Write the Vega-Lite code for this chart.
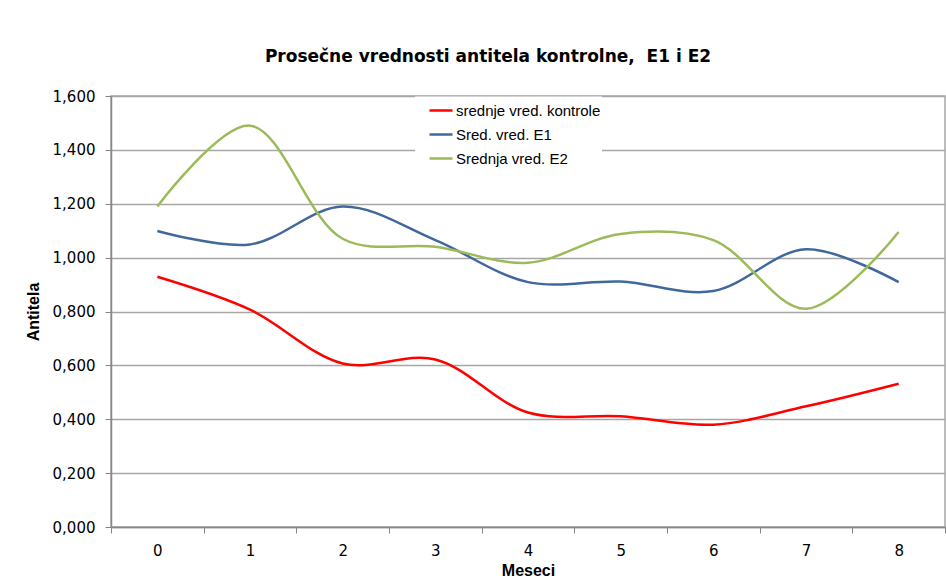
{
  "$schema": "https://vega.github.io/schema/vega-lite/v6.json",
  "autosize": "none",
  "width": 834,
  "height": 431,
  "padding": {"left": 111, "top": 96, "right": 1, "bottom": 56},
  "background": "white",
  "title": {
    "text": "Prosečne vrednosti antitela kontrolne,\u00a0 E1 i E2",
    "font": "DejaVu Sans",
    "fontSize": 17,
    "fontWeight": "bold",
    "color": "#000000",
    "anchor": "middle",
    "dx": -40,
    "offset": 23
  },
  "config": {
    "view": {"stroke": "#A6A6A6", "strokeWidth": 1.5},
    "font": "Liberation Sans"
  },
  "data": {
    "values": [
      {"mesec": "0", "serija": "srednje vred. kontrole", "vrednost": 0.929},
      {"mesec": "1", "serija": "srednje vred. kontrole", "vrednost": 0.807},
      {"mesec": "2", "serija": "srednje vred. kontrole", "vrednost": 0.607},
      {"mesec": "3", "serija": "srednje vred. kontrole", "vrednost": 0.622},
      {"mesec": "4", "serija": "srednje vred. kontrole", "vrednost": 0.425},
      {"mesec": "5", "serija": "srednje vred. kontrole", "vrednost": 0.411},
      {"mesec": "6", "serija": "srednje vred. kontrole", "vrednost": 0.38},
      {"mesec": "7", "serija": "srednje vred. kontrole", "vrednost": 0.448},
      {"mesec": "8", "serija": "srednje vred. kontrole", "vrednost": 0.532},
      {"mesec": "0", "serija": "Sred. vred. E1", "vrednost": 1.099},
      {"mesec": "1", "serija": "Sred. vred. E1", "vrednost": 1.049},
      {"mesec": "2", "serija": "Sred. vred. E1", "vrednost": 1.19},
      {"mesec": "3", "serija": "Sred. vred. E1", "vrednost": 1.065},
      {"mesec": "4", "serija": "Sred. vred. E1", "vrednost": 0.909},
      {"mesec": "5", "serija": "Sred. vred. E1", "vrednost": 0.911},
      {"mesec": "6", "serija": "Sred. vred. E1", "vrednost": 0.876},
      {"mesec": "7", "serija": "Sred. vred. E1", "vrednost": 1.031},
      {"mesec": "8", "serija": "Sred. vred. E1", "vrednost": 0.909},
      {"mesec": "0", "serija": "Srednja vred. E2", "vrednost": 1.19},
      {"mesec": "1", "serija": "Srednja vred. E2", "vrednost": 1.49},
      {"mesec": "2", "serija": "Srednja vred. E2", "vrednost": 1.07},
      {"mesec": "3", "serija": "Srednja vred. E2", "vrednost": 1.04},
      {"mesec": "4", "serija": "Srednja vred. E2", "vrednost": 0.981},
      {"mesec": "5", "serija": "Srednja vred. E2", "vrednost": 1.088},
      {"mesec": "6", "serija": "Srednja vred. E2", "vrednost": 1.065},
      {"mesec": "7", "serija": "Srednja vred. E2", "vrednost": 0.81},
      {"mesec": "8", "serija": "Srednja vred. E2", "vrednost": 1.095}
    ]
  },
  "mark": {"type": "line", "interpolate": "catmull-rom", "strokeWidth": 2.5},
  "encoding": {
    "x": {
      "field": "mesec",
      "type": "ordinal",
      "bandPosition": 0.5,
      "scale": {"type": "band", "paddingInner": 0, "paddingOuter": 0},
      "axis": {
        "title": "Meseci",
        "titleFont": "Liberation Sans",
        "titleFontSize": 16,
        "titleFontWeight": "bold",
        "titleColor": "#000000",
        "titlePadding": 4,
        "labelAngle": 0,
        "labelFont": "DejaVu Sans",
        "labelFontSize": 15,
        "labelColor": "#000000",
        "labelPadding": 10,
        "tickBand": "extent",
        "tickSize": 6,
        "tickColor": "#868686",
        "domainColor": "#868686",
        "domainWidth": 1.5,
        "grid": false
      }
    },
    "y": {
      "field": "vrednost",
      "type": "quantitative",
      "scale": {"domain": [0, 1.6], "nice": false, "zero": true},
      "axis": {
        "title": "Antitela",
        "titleFont": "Liberation Sans",
        "titleFontSize": 16,
        "titleFontWeight": "bold",
        "titleColor": "#000000",
        "titlePadding": 11,
        "values": [0, 0.2, 0.4, 0.6, 0.8, 1, 1.2, 1.4, 1.6],
        "labelExpr": "replace(format(datum.value, '.3f'), '.', ',')",
        "labelFont": "DejaVu Sans",
        "labelFontSize": 15,
        "labelColor": "#000000",
        "labelPadding": 10,
        "tickSize": 6,
        "tickColor": "#868686",
        "domainColor": "#868686",
        "domainWidth": 1.5,
        "gridColor": "#A6A6A6",
        "gridWidth": 1.5
      }
    },
    "color": {
      "field": "serija",
      "type": "nominal",
      "scale": {
        "domain": ["srednje vred. kontrole", "Sred. vred. E1", "Srednja vred. E2"],
        "range": ["#FF0000", "#41689C", "#9BBB59"]
      },
      "legend": {
        "title": null,
        "orient": "none",
        "legendX": 304,
        "legendY": 0.5,
        "direction": "vertical",
        "fillColor": "white",
        "padding": 1,
        "symbolOffset": 12,
        "symbolType": "stroke",
        "symbolSize": 530,
        "symbolStrokeWidth": 2.5,
        "labelFont": "Liberation Sans",
        "labelFontSize": 15,
        "labelColor": "#000000",
        "labelOffset": 2,
        "rowPadding": 3,
        "offset": 0
      }
    }
  }
}
